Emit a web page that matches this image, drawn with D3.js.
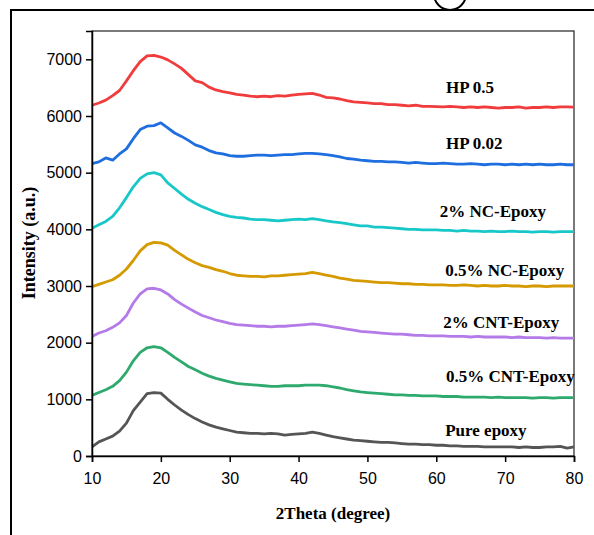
<!DOCTYPE html>
<html lang="en">
<head>
<meta charset="utf-8">
<script src="https://cdn.jsdelivr.net/npm/d3@7"></script>
<style>
  body { margin: 0; background: #fff; }
  .tick text { font-family: "Liberation Sans", Arial, sans-serif; font-size: 16px; fill: #000; }
  .title { font-family: "Liberation Serif", "Times New Roman", serif; font-weight: bold; fill: #000; }
</style>
</head>
<body>
<div id="chart"></div>
<script>
// 2theta positions (degree)
var twoTheta = [10,11,12,13,14,15,16,17,18,19,20,21,22,23,24,25,26,27,28,29,30,
  31,32,33,34,35,36,37,38,39,40,41,42,43,44,45,46,47,48,49,50,
  51,52,53,54,55,56,57,58,59,60,61,62,63,64,65,66,67,68,69,70,
  71,72,73,74,75,76,77,78,79,80];

var hp05 = [6190,6230,6280,6360,6450,6620,6800,6960,7060,7070,7040,6990,6920,6840,6730,6620,6590,6510,6460,6430,6410,
  6380,6370,6350,6340,6350,6340,6360,6350,6370,6380,6390,6400,6370,6330,6320,6300,6270,6250,6240,6230,
  6220,6220,6200,6200,6190,6180,6190,6170,6170,6165,6160,6170,6160,6150,6160,6150,6160,6150,6140,6150,
  6150,6160,6140,6150,6150,6160,6150,6160,6160,6155];

var hp002 = [5160,5190,5260,5220,5330,5420,5600,5760,5820,5830,5880,5790,5700,5640,5570,5490,5450,5390,5350,5330,5300,
  5290,5290,5300,5310,5310,5300,5310,5320,5320,5330,5340,5340,5330,5320,5300,5280,5250,5240,5220,5210,
  5200,5200,5190,5190,5180,5170,5180,5170,5160,5160,5170,5160,5150,5150,5160,5150,5140,5150,5150,5140,
  5150,5140,5150,5140,5150,5140,5140,5150,5140,5140];

var nc2 = [4020,4080,4140,4230,4380,4560,4750,4900,4980,5000,4960,4820,4720,4620,4530,4460,4400,4350,4300,4260,4230,
  4210,4200,4180,4170,4170,4160,4150,4160,4170,4180,4170,4190,4170,4150,4130,4120,4100,4080,4060,4060,
  4040,4040,4030,4020,4010,4000,4000,3990,3990,3990,3980,3980,3970,3980,3970,3970,3960,3970,3960,3960,
  3970,3960,3960,3950,3960,3960,3950,3960,3960,3960];

var nc05 = [2990,3030,3070,3110,3190,3300,3450,3620,3730,3770,3760,3720,3630,3550,3470,3410,3360,3330,3290,3260,3220,
  3190,3180,3170,3170,3160,3180,3180,3190,3200,3210,3220,3240,3220,3190,3170,3140,3120,3100,3090,3080,
  3070,3060,3060,3050,3040,3040,3030,3030,3020,3020,3020,3010,3010,3020,3010,3000,3010,3000,3000,3010,
  3000,3000,2990,3000,3000,2990,3000,3000,3000,3000];

var cnt2 = [2110,2170,2210,2270,2350,2480,2700,2860,2950,2960,2930,2860,2760,2680,2610,2540,2480,2440,2400,2370,2340,
  2320,2310,2300,2290,2290,2280,2290,2290,2300,2310,2320,2330,2320,2300,2280,2260,2240,2220,2200,2190,
  2180,2170,2160,2150,2150,2140,2130,2130,2120,2120,2120,2110,2110,2110,2100,2110,2100,2100,2100,2100,
  2090,2100,2090,2090,2090,2080,2090,2080,2080,2080];

var cnt05 = [1070,1120,1170,1230,1330,1480,1680,1830,1910,1930,1910,1830,1740,1660,1580,1520,1460,1410,1370,1340,1310,
  1280,1270,1260,1250,1240,1230,1230,1240,1240,1240,1250,1250,1250,1240,1220,1200,1170,1150,1130,1120,
  1110,1100,1090,1080,1080,1070,1070,1060,1060,1060,1050,1050,1050,1040,1040,1040,1040,1030,1040,1030,
  1030,1030,1030,1020,1030,1030,1020,1030,1030,1030];

var pure = [160,250,300,350,440,580,800,950,1100,1120,1110,1000,900,810,730,660,600,550,510,480,450,
  420,410,400,400,390,400,390,370,380,390,400,420,400,370,340,320,300,280,270,260,
  250,240,240,230,220,210,210,200,200,190,190,180,180,170,170,170,160,160,160,160,
  160,150,160,150,150,160,160,170,140,160];

var seriesNames = ["HP 0.5", "HP 0.02", "2% NC-Epoxy", "0.5% NC-Epoxy", "2% CNT-Epoxy", "0.5% CNT-Epoxy", "Pure epoxy"];
var seriesValues = [hp05, hp002, nc2, nc05, cnt2, cnt05, pure];
var seriesColors = ["#f03c3c", "#1e6ee0", "#18c8c8", "#d49a00", "#b47ae8", "#2eaa6e", "#555555"];
// where each label sits: 2theta of its left edge and intensity of its baseline
var labelX = [61.4, 61.4, 60.5, 61.3, 61.0, 61.4, 61.3];
var labelY = [6400, 5410, 4225, 3182, 2263, 1308, 354];

var xTicks = [10, 20, 30, 40, 50, 60, 70, 80];
var yTicks = [0, 1000, 2000, 3000, 4000, 5000, 6000, 7000];

var W = 594, H = 535;
var margin = { top: 31, right: 20, bottom: 79, left: 92 };
var width = W - margin.left - margin.right;
var height = H - margin.top - margin.bottom;

var svg = d3.select("#chart").append("svg")
  .attr("width", W)
  .attr("height", H);

// outer frame (top + left edges) and the little circle above it
svg.append("path")
  .attr("d", "M11,535 L11,10 L594,10")
  .attr("fill", "none")
  .attr("stroke", "#000")
  .attr("stroke-width", 2);
svg.append("circle")
  .attr("cx", 450).attr("cy", -6).attr("r", 16)
  .attr("fill", "none")
  .attr("stroke", "#000")
  .attr("stroke-width", 2);

var g = svg.append("g")
  .attr("transform", "translate(" + margin.left + "," + margin.top + ")");

var x = d3.scaleLinear().domain([10, 80]).range([0, width]);
var y = d3.scaleLinear().domain([0, 7500]).range([height, 0]);

// plot box
g.append("rect")
  .attr("width", width)
  .attr("height", height)
  .attr("fill", "none")
  .attr("stroke", "#222")
  .attr("stroke-width", 1.2);

var line = d3.line()
  .x(function(d, i) { return x(twoTheta[i]); })
  .y(function(d) { return y(d); });

g.selectAll(".curve")
  .data(seriesValues)
  .enter().append("path")
  .attr("class", "curve")
  .attr("d", line)
  .attr("fill", "none")
  .attr("stroke", function(d, i) { return seriesColors[i]; })
  .attr("stroke-width", 2.8)
  .attr("stroke-linejoin", "round");

g.selectAll(".lbl")
  .data(seriesNames)
  .enter().append("text")
  .attr("class", "title lbl")
  .attr("x", function(d, i) { return x(labelX[i]); })
  .attr("y", function(d, i) { return y(labelY[i]); })
  .style("font-size", "17px")
  .text(function(d) { return d; });

var xAxis = g.append("g")
  .attr("transform", "translate(0," + height + ")")
  .call(d3.axisBottom(x).tickValues(xTicks).tickSize(6).tickPadding(11).tickFormat(d3.format("d")));
var yAxis = g.append("g")
  .call(d3.axisLeft(y).tickValues(yTicks).tickSize(6).tickPadding(4).tickFormat(d3.format("d")));

[xAxis, yAxis].forEach(function(a) {
  a.select(".domain").attr("stroke", "#000").attr("stroke-width", 1.5);
  a.selectAll(".tick line").attr("stroke", "#000").attr("stroke-width", 1.5);
  a.attr("font-family", null).attr("font-size", null);
});

svg.append("text")
  .attr("class", "title")
  .attr("x", margin.left + width / 2)
  .attr("y", 519)
  .attr("text-anchor", "middle")
  .style("font-size", "17px")
  .text("2Theta (degree)");

svg.append("text")
  .attr("class", "title")
  .attr("transform", "translate(35,243) rotate(-90)")
  .attr("text-anchor", "middle")
  .style("font-size", "18px")
  .text("Intensity (a.u.)");
</script>
</body>
</html>
